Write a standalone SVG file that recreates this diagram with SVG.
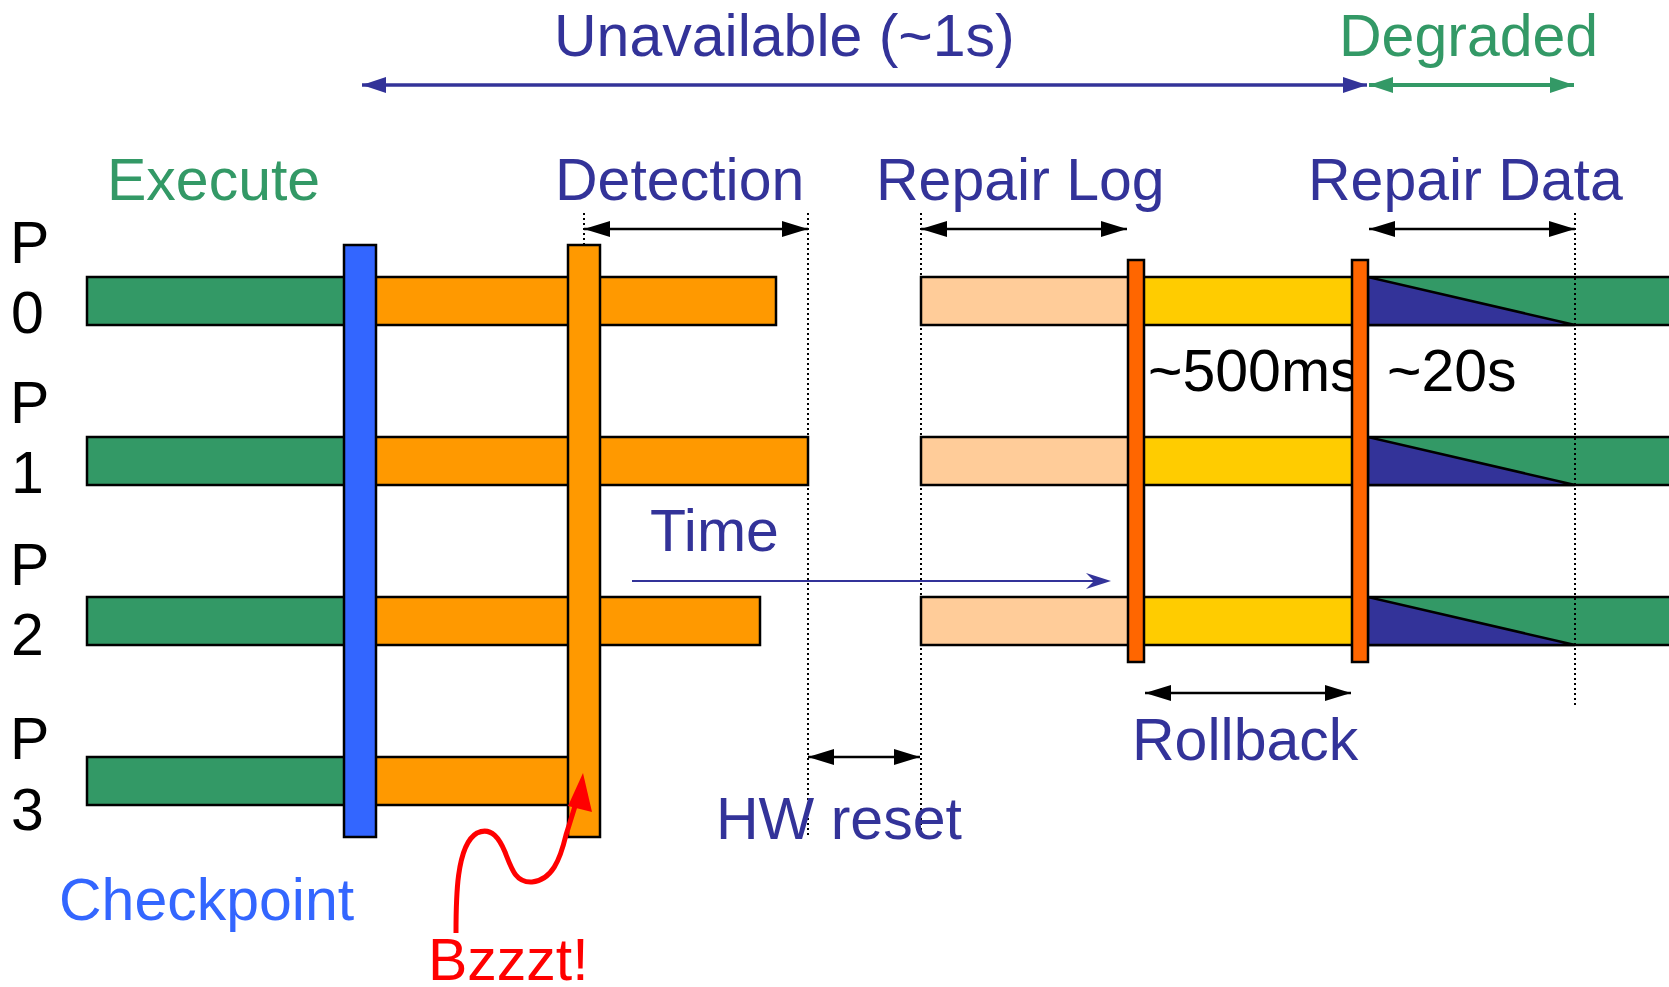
<svg xmlns="http://www.w3.org/2000/svg" width="1669" height="987" viewBox="0 0 1669 987">
<style>
text{font-family:"Liberation Sans",Arial,sans-serif;font-size:59px}
.db{fill:#333399}.gr{fill:#339966}.bk{fill:#000}
.bar{stroke:#000;stroke-width:2.5}
.dot{stroke:#000;stroke-width:2;stroke-dasharray:2 3;fill:none}
.arr{stroke:#000;stroke-width:2.5;fill:none}
</style>
<defs>
<marker id="ab" viewBox="0 0 26 16" refX="26" refY="8" markerWidth="26" markerHeight="16" markerUnits="userSpaceOnUse" orient="auto-start-reverse"><path d="M0,0 L26,8 L0,16 Z" fill="#000"/></marker>
<marker id="au" viewBox="0 0 24 16" refX="24" refY="8" markerWidth="24" markerHeight="16" markerUnits="userSpaceOnUse" orient="auto-start-reverse"><path d="M0,0 L24,8 L0,16 Z" fill="#333399"/></marker>
<marker id="ag" viewBox="0 0 24 16" refX="24" refY="8" markerWidth="24" markerHeight="16" markerUnits="userSpaceOnUse" orient="auto-start-reverse"><path d="M0,0 L24,8 L0,16 Z" fill="#339966"/></marker>
</defs>
<rect width="1669" height="987" fill="#fff"/>

<g id="labels">
<text class="db" x="554" y="56">Unavailable (~1s)</text>
<text class="gr" x="1339" y="56">Degraded</text>
<text class="gr" x="107" y="200">Execute</text>
<text class="db" x="555" y="200">Detection</text>
<text class="db" x="876" y="200">Repair Log</text>
<text class="db" x="1308" y="200">Repair Data</text>
<text class="bk" x="10" y="263">P</text><text class="bk" x="11" y="333">0</text>
<text class="bk" x="10" y="423">P</text><text class="bk" x="11" y="493">1</text>
<text class="bk" x="10" y="585">P</text><text class="bk" x="11" y="655">2</text>
<text class="bk" x="10" y="759">P</text><text class="bk" x="11" y="830">3</text>
<text class="bk" x="1148" y="391">~500ms</text>
<text class="bk" x="1387" y="391">~20s</text>
<text class="db" x="650" y="551">Time</text>
<text class="db" x="1132" y="760">Rollback</text>
<text style="fill:#3366ff" x="59" y="920">Checkpoint</text>
<text style="fill:#ff0000" x="428" y="980">Bzzzt!</text>
</g>

<g id="row-p0">
<rect class="bar" x="87" y="277" width="273" height="48" fill="#339966"/>
<rect class="bar" x="360" y="277" width="416" height="48" fill="#ff9900"/>
<rect class="bar" x="921" y="277" width="215" height="48" fill="#ffcc99"/>
<rect class="bar" x="1136" y="277" width="224" height="48" fill="#ffcc00"/>
<rect class="bar" x="1360" y="277" width="330" height="48" fill="#339966"/>
<polygon class="bar" points="1368,277 1368,325 1575,325" fill="#333399"/>
</g>
<g id="row-p1">
<rect class="bar" x="87" y="437" width="273" height="48" fill="#339966"/>
<rect class="bar" x="360" y="437" width="448" height="48" fill="#ff9900"/>
<rect class="bar" x="921" y="437" width="215" height="48" fill="#ffcc99"/>
<rect class="bar" x="1136" y="437" width="224" height="48" fill="#ffcc00"/>
<rect class="bar" x="1360" y="437" width="330" height="48" fill="#339966"/>
<polygon class="bar" points="1368,437 1368,485 1575,485" fill="#333399"/>
</g>
<g id="row-p2">
<rect class="bar" x="87" y="597" width="273" height="48" fill="#339966"/>
<rect class="bar" x="360" y="597" width="400" height="48" fill="#ff9900"/>
<rect class="bar" x="921" y="597" width="215" height="48" fill="#ffcc99"/>
<rect class="bar" x="1136" y="597" width="224" height="48" fill="#ffcc00"/>
<rect class="bar" x="1360" y="597" width="330" height="48" fill="#339966"/>
<polygon class="bar" points="1368,597 1368,645 1575,645" fill="#333399"/>
</g>
<g id="row-p3">
<rect class="bar" x="87" y="757" width="273" height="48" fill="#339966"/>
<rect class="bar" x="360" y="757" width="224" height="48" fill="#ff9900"/>
</g>

<g id="checkpoint-bar"><rect class="bar" x="344" y="245" width="32" height="592" fill="#3366ff"/></g>
<g id="detection-bar"><rect class="bar" x="568" y="245" width="32" height="592" fill="#ff9900"/></g>
<g id="rollback-bar-1"><rect class="bar" x="1128" y="260" width="16" height="402" fill="#ff6600"/></g>
<g id="rollback-bar-2"><rect class="bar" x="1352" y="260" width="16" height="402" fill="#ff6600"/></g>

<g id="connectors">
<line class="dot" x1="584" y1="213" x2="584" y2="245"/>
<line class="dot" x1="808" y1="213" x2="808" y2="835"/>
<line class="dot" x1="921" y1="213" x2="921" y2="835"/>
<line class="dot" x1="1575" y1="213" x2="1575" y2="706"/>
<line x1="362" y1="85" x2="1367" y2="85" stroke="#333399" stroke-width="3.5" marker-start="url(#au)" marker-end="url(#au)"/>
<line x1="1369" y1="85" x2="1574" y2="85" stroke="#339966" stroke-width="4" marker-start="url(#ag)" marker-end="url(#ag)"/>
<line class="arr" x1="584" y1="229" x2="808" y2="229" marker-start="url(#ab)" marker-end="url(#ab)"/>
<line class="arr" x1="921" y1="229" x2="1127" y2="229" marker-start="url(#ab)" marker-end="url(#ab)"/>
<line class="arr" x1="1369" y1="229" x2="1575" y2="229" marker-start="url(#ab)" marker-end="url(#ab)"/>
<line class="arr" x1="808" y1="757" x2="920" y2="757" marker-start="url(#ab)" marker-end="url(#ab)"/>
<line class="arr" x1="1145" y1="693" x2="1351" y2="693" marker-start="url(#ab)" marker-end="url(#ab)"/>
<line x1="632" y1="581" x2="1100" y2="581" stroke="#333399" stroke-width="2"/>
<path d="M1086,573 L1111,581 L1086,589 L1094,581 Z" fill="#333399"/>
<path d="M456,933 C456,900 456,845 477,833 C492,826 500,840 505,852 C512,870 516,883 532,882 C552,880 560,860 566,835 L576,803" fill="none" stroke="#ff0000" stroke-width="5"/>
<polygon points="583,773 568,806 592,812" fill="#ff0000"/>
</g>
<text class="db" x="716" y="839">HW reset</text>
</svg>
